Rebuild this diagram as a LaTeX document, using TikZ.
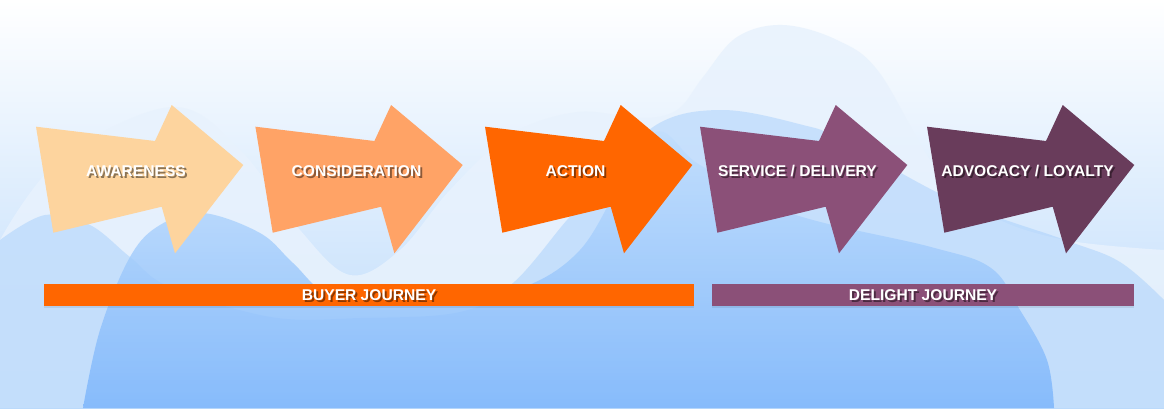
\documentclass[tikz,border=0pt]{standalone}
\usepackage{fontspec}
\usepackage{tikz}
\newfontfamily\stagefont{Liberation Sans}

\begin{document}
\begin{tikzpicture}[x=1pt,y=-1pt,
    stagetext/.style={inner sep=0, outer sep=0, text=white, font=\stagefont\bfseries\fontsize{15.6pt}{15.6pt}\selectfont},
    stageshadow/.style={stagetext, text=black, text opacity=0.45},
    journeybar/.style={inner sep=0, outer sep=0, minimum height=22pt, anchor=west}]
    \definecolor{col_sky}{RGB}{233, 243, 254}
    \definecolor{col_sea}{RGB}{185, 217, 251}
    \definecolor{col_far}{RGB}{232, 242, 253}
    \definecolor{col_mid}{RGB}{160, 203, 251}
    \definecolor{col_deep}{RGB}{120, 179, 251}
    \definecolor{col_deeptop}{RGB}{196, 224, 252}
    \definecolor{col_aware}{RGB}{253, 212, 158}
    \definecolor{col_consid}{RGB}{255, 163, 102}
    \definecolor{col_action}{RGB}{255, 102, 0}
    \definecolor{col_service}{RGB}{139, 80, 120}
    \definecolor{col_advocacy}{RGB}{105, 60, 91}
    \def\stagearrow#1#2{\fill [#2, shift={(#1,126.7)}] (0,0) -- (119,14.3) -- (135.7,-21.7) -- (207.3,38.3) -- (139,126.6) -- (125.7,80) -- (17.3,106) -- cycle;}
    % sky and hills
    \shade [top color=white, middle color=col_sky, bottom color=col_sea] (0,0) rectangle (1164,408);
    \fill [col_far, opacity=0.85] (0,408) -- plot [smooth, tension=0.6] coordinates {(0,240) (60,160) (171,107) (240,150) (300,230) (350,275) (400,250) (450,190) (510,135) (577,112) (640,118) (677,110) (703,77) (737,37) (783,25) (837,40) (879,72) (935,167) (990,215) (1065,240) (1164,250)} -- (1164,408) -- cycle;
    \fill [col_mid, opacity=0.45] (0,408) -- plot [smooth, tension=0.6] coordinates {(0,240) (45,215) (90,225) (130,257) (170,287) (271,317) (360,318) (460,312) (513,283) (567,220) (600,185) (656,125) (723,110) (803,125) (842,140) (953,200) (1065,240) (1120,262) (1164,300)} -- (1164,408) -- cycle;
    \shade [top color=col_deeptop, bottom color=col_deep, opacity=0.8] (83,408) -- plot [smooth, tension=0.6] coordinates {(83,408) (100,330) (130,257) (160,225) (203,213) (260,233) (293,263) (330,295) (400,305) (500,295) (580,250) (650,135) (700,165) (790,213) (931,247) (991,268) (1020,310) (1047,360) (1054,408)} -- cycle;
    % stages
    \stagearrow{36}{col_aware}
    \stagearrow{255.4}{col_consid}
    \stagearrow{485}{col_action}
    \stagearrow{700}{col_service}
    \stagearrow{927}{col_advocacy}
    \node [stageshadow] (aware-s) at (138,173) {AWARENESS};
    \node [stagetext] (aware) at (136,171) {AWARENESS};
    \node [stageshadow] (consid-s) at (358.5,173) {CONSIDERATION};
    \node [stagetext] (consid) at (356.5,171) {CONSIDERATION};
    \node [stageshadow] (action-s) at (577.5,173) {ACTION};
    \node [stagetext] (action) at (575.5,171) {ACTION};
    \node [stageshadow] (service-s) at (799.5,173) {SERVICE / DELIVERY};
    \node [stagetext] (service) at (797.5,171) {SERVICE / DELIVERY};
    \node [stageshadow] (advocacy-s) at (1029.5,173) {ADVOCACY / LOYALTY};
    \node [stagetext] (advocacy) at (1027.5,171) {ADVOCACY / LOYALTY};
    % journeys
    \fill [black, opacity=0.08] (44,286) rectangle (694,307.5);
    \fill [black, opacity=0.08] (712,286) rectangle (1134,307.5);
    \node [journeybar, fill=col_action, minimum width=650pt] (buyer) at (44,295) {};
    \node [journeybar, fill=col_service, minimum width=422pt] (delight) at (712,295) {};
    \node [stageshadow] (buyer-s) at (371,297) {BUYER JOURNEY};
    \node [stagetext] at (buyer.center) {BUYER JOURNEY};
    \node [stageshadow] (delight-s) at (925,297) {DELIGHT JOURNEY};
    \node [stagetext] at (delight.center) {DELIGHT JOURNEY};
\end{tikzpicture}
\end{document}
